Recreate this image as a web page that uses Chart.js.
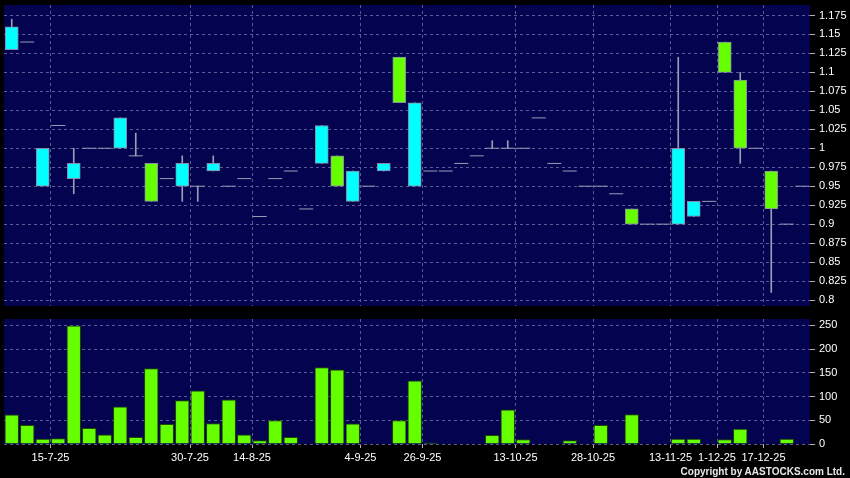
<!DOCTYPE html>
<html>
<head>
<meta charset="utf-8">
<script src="https://cdn.jsdelivr.net/npm/chart.js@4.4.1/dist/chart.umd.min.js"></script>
<style>
    body {
        margin: 0;
        background: #000;
        width: 850px;
        height: 478px;
        overflow: hidden;
        position: relative;
        font-family: "Liberation Sans", Arial, sans-serif;
    }
    #price-chart { position: absolute; left: 0; top: 0; }
    #volume-chart { position: absolute; left: 0; top: 310px; }
    #copyright {
        position: absolute;
        right: 5px;
        top: 466px;
        color: #e8e8e8;
        font-size: 10px;
        font-weight: bold;
    }
</style>
</head>
<body>
<canvas id="price-chart" width="850" height="310"></canvas>
<canvas id="volume-chart" width="850" height="168"></canvas>
<div id="copyright">Copyright by AASTOCKS.com Ltd.</div>

<script>
// Data (one entry per trading slot)
const dateLabels = [
    '', '', '', '15-7-25', '', '', '', '', '', '',
    '', '', '30-7-25', '', '', '', '14-8-25', '', '', '',
    '', '', '', '4-9-25', '', '', '', '26-9-25', '', '',
    '', '', '', '13-10-25', '', '', '', '', '28-10-25', '',
    '', '', '', '13-11-25', '', '', '1-12-25', '', '', '17-12-25',
    '', ''
];

const opens = [
    1.16, 1.14, 1.0, 1.03, 0.98, 1.0, 1.0, 1.04, 0.99, 0.93,
    0.96, 0.98, 0.95, 0.98, 0.95, 0.96, 0.91, 0.96, 0.97, 0.92,
    1.03, 0.95, 0.97, 0.95, 0.98, 1.06, 1.06, 0.97, 0.97, 0.98,
    0.99, 1.0, 1.0, 1.0, 1.04, 0.98, 0.97, 0.95, 0.95, 0.94,
    0.90, 0.90, 0.90, 1.0, 0.93, 0.93, 1.10, 1.0, 1.0, 0.92,
    0.90, 0.95
];

const highs = [
    1.17, 1.14, 1.0, 1.03, 1.0, 1.0, 1.0, 1.04, 1.02, 0.98,
    0.96, 0.99, 0.95, 0.99, 0.95, 0.96, 0.91, 0.96, 0.97, 0.92,
    1.03, 0.99, 0.97, 0.95, 0.98, 1.12, 1.06, 0.97, 0.97, 0.98,
    0.99, 1.01, 1.01, 1.0, 1.04, 0.98, 0.97, 0.95, 0.95, 0.94,
    0.92, 0.90, 0.90, 1.12, 0.93, 0.93, 1.14, 1.10, 1.0, 0.97,
    0.90, 0.95
];

const lows = [
    1.13, 1.14, 0.95, 1.03, 0.94, 1.0, 1.0, 1.0, 0.99, 0.93,
    0.96, 0.93, 0.93, 0.97, 0.95, 0.96, 0.91, 0.96, 0.97, 0.92,
    0.98, 0.95, 0.93, 0.95, 0.97, 1.06, 0.95, 0.97, 0.97, 0.98,
    0.99, 1.0, 1.0, 1.0, 1.04, 0.98, 0.97, 0.95, 0.95, 0.94,
    0.90, 0.90, 0.90, 0.90, 0.91, 0.93, 1.10, 0.98, 1.0, 0.81,
    0.90, 0.95
];

const closes = [
    1.13, 1.14, 0.95, 1.03, 0.96, 1.0, 1.0, 1.0, 0.99, 0.98,
    0.96, 0.95, 0.95, 0.97, 0.95, 0.96, 0.91, 0.96, 0.97, 0.92,
    0.98, 0.99, 0.93, 0.95, 0.97, 1.12, 0.95, 0.97, 0.97, 0.98,
    0.99, 1.0, 1.0, 1.0, 1.04, 0.98, 0.97, 0.95, 0.95, 0.94,
    0.92, 0.90, 0.90, 0.90, 0.91, 0.93, 1.14, 1.09, 1.0, 0.97,
    0.90, 0.95
];

const volumes = [
    62, 40, 11, 12, 250, 34, 20, 79, 15, 160,
    42, 92, 113, 44, 94, 20, 8, 50, 15, 1,
    162, 157, 43, 1, 1, 50, 134, 3, 0, 1,
    0, 19, 73, 10, 0, 1, 8, 0, 40, 0,
    63, 0, 0, 11, 11, 1, 10, 32, 0, 1,
    11, 0
];

const priceTicks = [0.8, 0.825, 0.85, 0.875, 0.9, 0.925, 0.95, 0.975, 1, 1.025, 1.05, 1.075, 1.1, 1.125, 1.15, 1.175];
const volumeTicks = [0, 50, 100, 150, 200, 250];

// Colours
const panelColor = '#03034f';
const gridColor = '#5a5a96';
const upColor = '#66ff00';
const downColor = '#00ffff';
const edgeColor = '#8a8aa6';
const labelColor = '#ffffff';

const slotWidth = (810 - 4) / dateLabels.length;

// Fill the plot area with the navy panel colour
const panelBg = {
    id: 'panelBg',
    beforeDraw(chart) {
        const { ctx, chartArea } = chart;
        ctx.save();
        ctx.fillStyle = panelColor;
        ctx.fillRect(chartArea.left, chartArea.top, chartArea.width, chartArea.height);
        ctx.restore();
    }
};

// Only draw vertical grid lines where a date label sits
function xGridColor(ctx) {
    return dateLabels[ctx.index] ? gridColor : 'transparent';
}

function rightAxis(min, max, tickValues, fmt) {
    return {
        position: 'right',
        min: min,
        max: max,
        afterBuildTicks: scale => {
            scale.ticks = tickValues.map(v => ({ value: v }));
        },
        afterFit: scale => {
            // fixed axis width, and no extra room for the end labels
            scale.width = 40;
            scale.paddingTop = 0;
            scale.paddingBottom = 0;
        },
        grid: {
            color: gridColor,
            tickLength: 5,
            tickColor: '#b0b0b0',
            tickBorderDash: []
        },
        border: { display: false, dash: [3, 3] },
        ticks: {
            color: labelColor,
            padding: 4,
            font: { family: 'Liberation Sans', size: 11 },
            callback: fmt
        }
    };
}

// Candlestick chart
const bodies = opens.map((o, i) => o === closes[i] ? null : [o, closes[i]]);
const flats = opens.map((o, i) => o === closes[i] ? closes[i] : null);
const wicks = highs.map((h, i) => h > lows[i] ? [lows[i], h] : null);

new Chart(document.getElementById('price-chart'), {
    type: 'bar',
    data: {
        labels: dateLabels,
        datasets: [
            {
                label: 'Body',
                data: bodies,
                backgroundColor: ctx => closes[ctx.dataIndex] > opens[ctx.dataIndex] ? upColor : downColor,
                borderColor: edgeColor,
                borderWidth: 1,
                borderSkipped: false,
                barThickness: 13,
                grouped: false,
                order: 0
            },
            {
                type: 'line',
                label: 'Flat',
                data: flats,
                showLine: false,
                pointStyle: 'line',
                pointRadius: 7,
                pointBorderWidth: 1,
                pointBorderColor: '#9c9cb8',
                order: 1
            },
            {
                label: 'Wick',
                data: wicks,
                backgroundColor: '#9c9cb8',
                barThickness: 1,
                grouped: false,
                order: 2
            }
        ]
    },
    options: {
        responsive: false,
        animation: false,
        events: [],
        layout: { autoPadding: false, padding: { left: 4, top: 5, right: 0, bottom: 4 } },
        plugins: { legend: { display: false }, tooltip: { enabled: false } },
        scales: {
            x: {
                offset: true,
                afterFit: scale => { scale.height = 0; },
                grid: { offset: true, color: xGridColor, drawTicks: false },
                border: { display: false, dash: [3, 3] },
                ticks: { display: false, autoSkip: false }
            },
            y: rightAxis(0.7921, 1.1888, priceTicks, v => String(parseFloat(v.toFixed(3))))
        }
    },
    plugins: [panelBg]
});

// Volume chart
new Chart(document.getElementById('volume-chart'), {
    type: 'bar',
    data: {
        labels: dateLabels,
        datasets: [{
            label: 'Volume',
            data: volumes,
            backgroundColor: upColor,
            borderColor: '#1e4a00',
            borderWidth: 1,
            barPercentage: 0.93,
            categoryPercentage: 1
        }]
    },
    options: {
        responsive: false,
        animation: false,
        events: [],
        layout: { autoPadding: false, padding: { left: 4, top: 9, right: 0, bottom: 0 } },
        plugins: { legend: { display: false }, tooltip: { enabled: false } },
        scales: {
            x: {
                offset: true,
                afterFit: scale => { scale.height = 34; },
                grid: {
                    offset: true,
                    color: xGridColor,
                    tickColor: ctx => dateLabels[ctx.index] ? '#b0b0b0' : 'transparent',
                    tickLength: 4,
                    tickBorderDash: []
                },
                border: { display: false, dash: [3, 3] },
                ticks: {
                    autoSkip: false,
                    maxRotation: 0,
                    padding: 3,
                    labelOffset: -slotWidth / 2,
                    color: labelColor,
                    font: { family: 'Liberation Sans', size: 11 },
                    callback: (v, i) => dateLabels[i]
                }
            },
            y: rightAxis(0, 263.6, volumeTicks, v => String(v))
        }
    },
    plugins: [panelBg]
});
</script>
</body>
</html>
